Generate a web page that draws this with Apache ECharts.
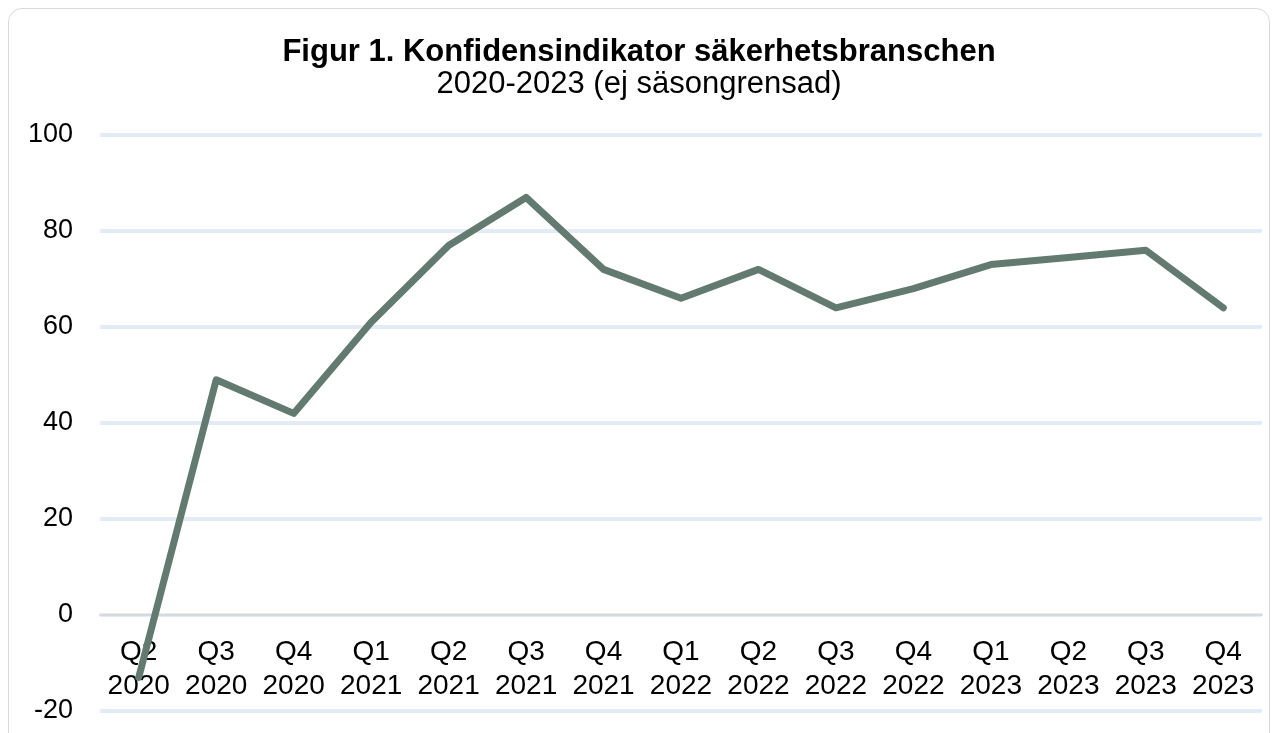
<!DOCTYPE html>
<html>
<head>
<meta charset="utf-8">
<script src="https://cdn.jsdelivr.net/npm/echarts@6/dist/echarts.min.js"></script>
<style>
  html, body { margin: 0; padding: 0; background: #fff; }
  #wrap { position: absolute; left: 8px; top: 8px; width: 1262px; height: 740px; border: 1px solid #d9d9d9; border-radius: 14px; box-sizing: border-box; }
  #chart { position: absolute; left: 0; top: 0; width: 1278px; height: 733px; }
</style>
</head>
<body>
<div id="wrap"></div>
<div id="chart"></div>
<script>
const quarters = ['Q2\n2020', 'Q3\n2020', 'Q4\n2020', 'Q1\n2021', 'Q2\n2021', 'Q3\n2021', 'Q4\n2021',
  'Q1\n2022', 'Q2\n2022', 'Q3\n2022', 'Q4\n2022', 'Q1\n2023', 'Q2\n2023', 'Q3\n2023', 'Q4\n2023']
const confidence = [-13, 49, 42, 61, 77, 87, 72, 66, 72, 64, 68, 73, 74.5, 76, 64]
const yTicks = [-20, 0, 20, 40, 60, 80, 100]

const font = '"Liberation Sans", Arial, sans-serif'
const chart = echarts.init(document.getElementById('chart'))

// labels sit right under the zero line, so the label axis is shifted up by one step (20 units = 96px)
const labelOffset = -96

chart.setOption({
  animation: false,
  title: {
    text: 'Figur 1. Konfidensindikator säkerhetsbranschen',
    subtext: '2020-2023 (ej säsongrensad)',
    left: 'center',
    top: 32,
    itemGap: 1,
    textStyle: { fontFamily: font, fontSize: 31, fontWeight: 'bold', color: '#000' },
    subtextStyle: { fontFamily: font, fontSize: 31, color: '#000' }
  },
  grid: { left: 100, right: 16, top: 135, bottom: 22, containLabel: false, outerBoundsMode: 'none' },
  xAxis: [{
    type: 'category',
    data: quarters,
    boundaryGap: true,
    position: 'bottom',
    offset: labelOffset,
    axisLine: { show: false, onZero: false },
    axisTick: { show: false },
    axisLabel: { interval: 0, fontFamily: font, fontSize: 28, color: '#000', lineHeight: 34, margin: 20 }
  }, {
    type: 'category',
    data: quarters,
    boundaryGap: true,
    position: 'bottom',
    axisLine: { onZero: true, lineStyle: { color: '#d9d9d9', width: 2 } },
    axisTick: { show: false },
    axisLabel: { show: false }
  }],
  yAxis: {
    type: 'value',
    min: yTicks[0],
    max: yTicks[yTicks.length - 1],
    interval: 20,
    axisLine: { show: false },
    axisTick: { show: false },
    axisLabel: { fontFamily: font, fontSize: 27, color: '#000', margin: 27 },
    splitLine: { lineStyle: { color: '#e2ebf7', width: 4 } }
  },
  series: [{
    type: 'line',
    data: confidence,
    symbol: 'none',
    lineStyle: { color: '#627a6f', width: 7, cap: 'round', join: 'round' }
  }]
})
</script>
</body>
</html>
